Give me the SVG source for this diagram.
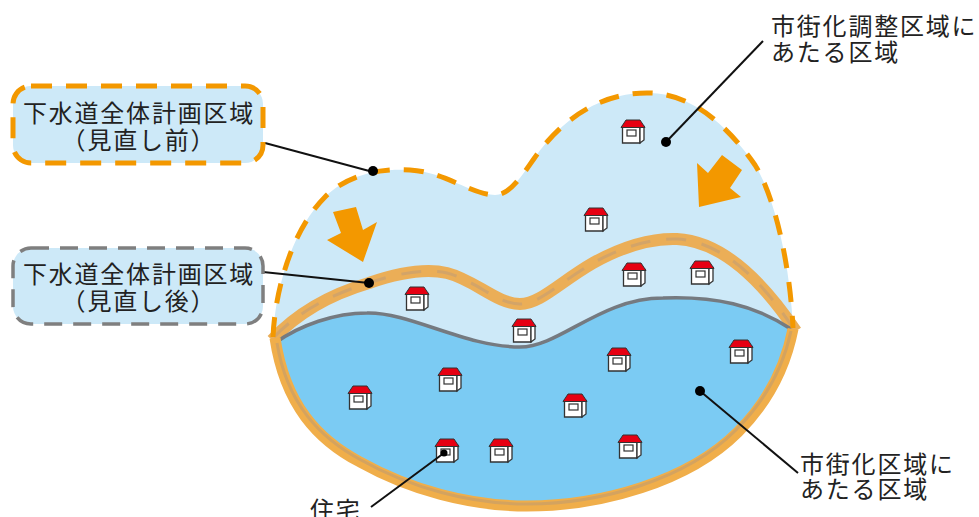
<svg xmlns="http://www.w3.org/2000/svg" xmlns:xlink="http://www.w3.org/1999/xlink" width="979" height="517" viewBox="0 0 979 517">
<style>
text{font-family:"Noto Sans CJK JP","Noto Sans",sans-serif;font-size:24px;fill:#222;letter-spacing:1.8px;font-weight:400}
.c{text-anchor:middle}
.lead{stroke:#111;stroke-width:2;fill:none}
.light{fill:#cde9f8}
.blue{fill:#7bcbf3}
.top{fill:none;stroke:#f39800;stroke-width:5;stroke-dasharray:20 14}
.band{fill:none;stroke:#ebae57;stroke-width:12;stroke-linejoin:miter}
.dash{fill:none;stroke:#d3a468;stroke-width:3;stroke-dasharray:20 16}
.bb{fill:none;stroke:#f0ae4a;stroke-width:11;stroke-linejoin:miter}
.bi{fill:none;stroke:#d4a35f;stroke-width:3}
.gr{fill:none;stroke:#757a80;stroke-width:3.500}
.arr{fill:#f39800}
.w{fill:#fff;stroke:#333;stroke-width:1.300}
.r{fill:#e60012;stroke:#333;stroke-width:1}
.win{fill:none;stroke:#333;stroke-width:1.200}
</style>
<defs>
<g id="house">
<path class="w" d="M-10.500 -4.500H7V12H-10.500Z"/>
<path class="w" d="M7 -4.500H11V9L7 12Z"/>
<path class="r" d="M-12 -3.500L-7 -11H7L12 -3.500Z"/>
<rect class="win" x="-6" y="-1" width="9" height="6"/>
</g>
</defs>
<g id="regions">
<path class="light" d="M273 337C275 290 292 230 325 197C345 177 375 168 410 170C445 172 470 194 495 195C515 195 530 160 547 142C575 110 610 92 650 93C690 94 725 122 755 165C775 197 790 265 793 328L520 420Z"/>
<path class="blue" d="M275 343C300 325 335 313 367 313C410 312 465 347 520 347C560 347 600 298 663 298C715 296 755 305 794 331C785 370 765 405 738 432C688 482 600 506 527 506C470 506 410 490 360 462C318 440 285 405 275 343Z"/>
</g>
<g id="boundaries">
<path class="band" d="M272 340C300 310 335 293 369 283C395 274 425 268 447 273C475 280 497 304 520 304C540 304 560 282 593 263C620 248 650 238 677 239C715 241 755 270 796 331"/>
<path class="dash" d="M274 337C300 310 335 293 369 283C395 274 425 268 447 273C475 280 497 304 520 304C540 304 560 282 593 263C620 248 650 238 677 239C715 241 755 270 793 328"/>
<path class="gr" d="M275 343C300 325 335 313 367 313C410 312 465 347 520 347C560 347 600 298 663 298C715 296 755 305 791 329"/>
<path class="bb" d="M793 329C785 370 765 405 738 432C688 482 600 506 527 506C470 506 410 490 360 462C318 440 285 405 275 338"/>
<path class="bi" d="M791 331C783 369 763 403 736 430C686 480 600 504 527 504C470 504 411 488 361 460C320 438 287 404 277 343"/>
<path class="top" d="M273 337C275 290 292 230 325 197C345 177 375 168 410 170C445 172 470 194 495 195C515 195 530 160 547 142C575 110 610 92 650 93C690 94 725 122 755 165C775 197 790 265 793 328"/>
</g>
<g id="arrows">
<path class="arr" d="M356 207L363 230L377 222L363 262L327 240L341 233L333 212Z"/>
<path class="arr" d="M722 155L742 170L730 188L741 197L699 207L697 163L708 173Z"/>
</g>
<g id="house1"><use xlink:href="#house" href="#house" x="633" y="131"/></g>
<g id="house2"><use xlink:href="#house" href="#house" x="596" y="219"/></g>
<g id="house3"><use xlink:href="#house" href="#house" x="634" y="274"/></g>
<g id="house4"><use xlink:href="#house" href="#house" x="702" y="272"/></g>
<g id="house5"><use xlink:href="#house" href="#house" x="417" y="298"/></g>
<g id="house6"><use xlink:href="#house" href="#house" x="524" y="330"/></g>
<g id="house7"><use xlink:href="#house" href="#house" x="619" y="359"/></g>
<g id="house8"><use xlink:href="#house" href="#house" x="741" y="351"/></g>
<g id="house9"><use xlink:href="#house" href="#house" x="450" y="379"/></g>
<g id="house10"><use xlink:href="#house" href="#house" x="360" y="397"/></g>
<g id="house11"><use xlink:href="#house" href="#house" x="575" y="405"/></g>
<g id="house12"><use xlink:href="#house" href="#house" x="447" y="450"/></g>
<g id="house13"><use xlink:href="#house" href="#house" x="501" y="450"/></g>
<g id="house14"><use xlink:href="#house" href="#house" x="630" y="446"/></g>
<g id="connectors">
<path class="lead" d="M265 143L373 172"/>
<path class="lead" d="M263 272L369 283"/>
<path class="lead" d="M763 41L666 142"/>
<path class="lead" d="M371 507L444 453"/>
<path class="lead" d="M700 391L798 473"/>
<circle cx="373" cy="171" r="5" fill="#000"/>
<circle cx="369" cy="283" r="5" fill="#000"/>
<circle cx="666" cy="142" r="5" fill="#000"/>
<circle cx="444" cy="453" r="3.500" fill="#000"/>
<circle cx="700" cy="391" r="5" fill="#000"/>
</g>
<g id="label-before">
<rect x="13" y="86" width="250" height="77" rx="18" fill="#cde9f8" stroke="#f39800" stroke-width="5" stroke-dasharray="21 14"/>
<text class="c" x="139" y="122">下水道全体計画区域</text>
<text class="c" x="139" y="149">（見直し前）</text>
</g>
<g id="label-after">
<rect x="13" y="248" width="250" height="76" rx="18" fill="#cde9f8" stroke="#7f7f7f" stroke-width="3.500" stroke-dasharray="18 11"/>
<text class="c" x="139" y="283">下水道全体計画区域</text>
<text class="c" x="139" y="310">（見直し後）</text>
</g>
<g id="label-urbancontrol">
<text x="771" y="35">市街化調整区域に</text>
<text x="771" y="61">あたる区域</text>
</g>
<g id="label-urban">
<text x="800" y="473">市街化区域に</text>
<text x="800" y="498">あたる区域</text>
</g>
<g id="label-house">
<text x="310" y="519">住宅</text>
</g>
</svg>
